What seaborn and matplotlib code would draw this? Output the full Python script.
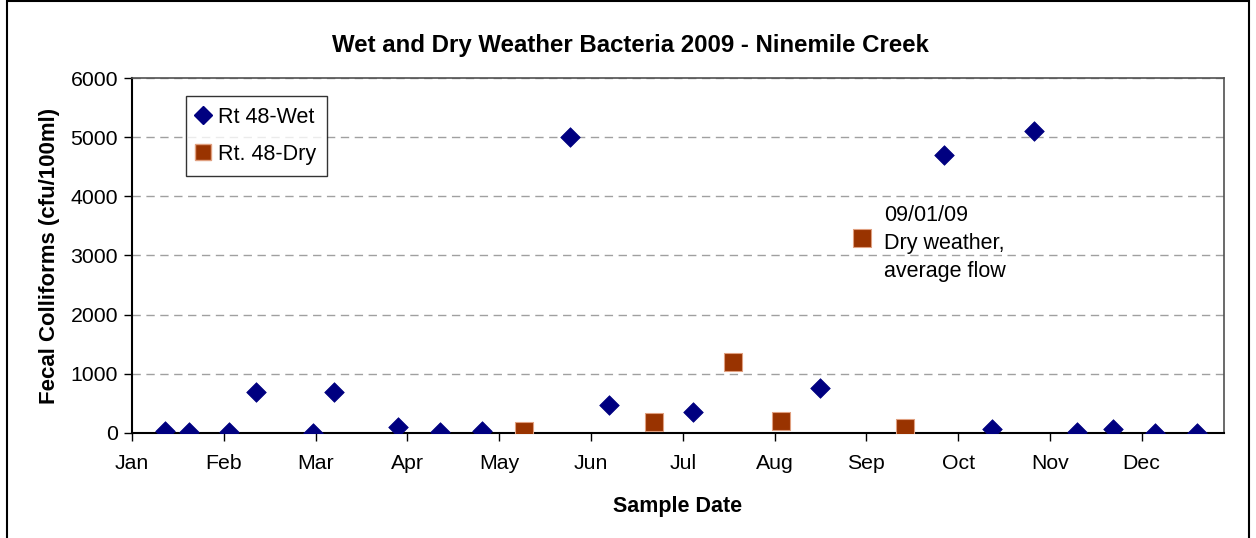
import matplotlib
matplotlib.use("Agg")
import matplotlib.pyplot as plt
import seaborn as sns
import pandas as pd
import numpy as np
from matplotlib.lines import Line2D
from matplotlib.patches import Rectangle

# ---- data ----
wet_dates = ["2009-01-12", "2009-01-20", "2009-02-02", "2009-02-11", "2009-03-02",
             "2009-03-09", "2009-03-30", "2009-04-13", "2009-04-27", "2009-05-26",
             "2009-06-08", "2009-07-06", "2009-08-17", "2009-09-27", "2009-10-13",
             "2009-10-27", "2009-11-10", "2009-11-22", "2009-12-06", "2009-12-20"]
wet_values = [40, 10, 10, 700, 0, 700, 100, 10, 40, 5000,
              470, 360, 760, 4700, 70, 5100, 20, 60, 0, 0]
dry_dates = ["2009-05-11", "2009-06-23", "2009-07-19", "2009-08-04", "2009-08-31", "2009-09-14"]
dry_values = [40, 190, 1200, 200, 3300, 80]
month_labels = ["Jan", "Feb", "Mar", "Apr", "May", "Jun", "Jul", "Aug", "Sep", "Oct", "Nov", "Dec"]
y_ticks = [0, 1000, 2000, 3000, 4000, 5000, 6000]
annotation = "09/01/09\nDry weather,\naverage flow"

start = pd.Timestamp("2009-01-01")
wet = pd.DataFrame({"day": (pd.to_datetime(wet_dates) - start).days, "val": wet_values})
dry = pd.DataFrame({"day": (pd.to_datetime(dry_dates) - start).days, "val": dry_values})

sns.set_style("white")
plt.rcParams["font.family"] = ["Liberation Sans", "DejaVu Sans"]
plt.rcParams["text.color"] = "black"
plt.rcParams["axes.labelcolor"] = "black"
plt.rcParams["xtick.color"] = "black"
plt.rcParams["ytick.color"] = "black"

fig = plt.figure(figsize=(12.56, 5.38), dpi=100)
ax = fig.add_axes([0.1051, 0.1952, 0.8694, 0.6598])

wet_c = "#000080"
dry_c = "#993300"
sns.scatterplot(data=wet, x="day", y="val", ax=ax, marker="D", s=100,
                color=wet_c, edgecolor=wet_c, linewidth=0.5, zorder=3)
sns.scatterplot(data=dry, x="day", y="val", ax=ax, marker="s", s=150,
                color=dry_c, edgecolor="#e0a080", linewidth=0.8, zorder=3)

unit = 365 / 12
ax.set_xlim(0, 11.897 * unit)
ax.set_ylim(0, 6000)
ax.set_xticks([i * unit for i in range(12)])
ax.set_xticklabels(month_labels)
ax.set_yticks(y_ticks)
ax.set_yticklabels([str(v) for v in y_ticks])
ax.tick_params(axis="both", labelsize=15.3, direction="out", length=6, width=1,
               color="black", labelcolor="black", bottom=True, left=True)
ax.tick_params(axis="x", pad=9)
ax.tick_params(axis="y", pad=4)

ax.yaxis.grid(True, linestyle=(0, (6, 4)), color="#a0a0a0", linewidth=1)
ax.xaxis.grid(False)
for side in ["left", "bottom"]:
    ax.spines[side].set_color("black")
    ax.spines[side].set_linewidth(1.5)
for side in ["top", "right"]:
    ax.spines[side].set_color("#505050")
    ax.spines[side].set_linewidth(1.2)

ax.set_xlabel("Sample Date", fontsize=15.5, fontweight="bold", labelpad=17)
ax.set_ylabel("Fecal Colliforms (cfu/100ml)", fontsize=16, fontweight="bold", labelpad=8)
fig.text(0.5 + 0.002, 1 - 46 / 538, "Wet and Dry Weather Bacteria 2009 - Ninemile Creek",
         ha="center", va="center", fontsize=17.3, fontweight="bold")

ax.annotate(annotation, xy=(884 / 1256, 1 - 205 / 538), xycoords="figure fraction",
            ha="left", va="top", fontsize=15.5, linespacing=1.45)

handles = [
    Line2D([], [], marker="D", color=wet_c, linestyle="none", markersize=9,
           markeredgecolor=wet_c, label="Rt 48-Wet"),
    Line2D([], [], marker="s", color=dry_c, linestyle="none", markersize=11.5,
           markeredgecolor="#e0a080", label="Rt. 48-Dry"),
]
leg = ax.legend(handles=handles, loc="upper left",
                bbox_to_anchor=((186 - 132) / 1092, (433 - 96) / 355),
                frameon=True, fancybox=False, shadow=False, fontsize=15.5,
                handlelength=0.6, handletextpad=0.4, borderpad=0.5,
                labelspacing=0.75, borderaxespad=0)
leg.get_frame().set_edgecolor("black")
leg.get_frame().set_linewidth(1)

# outer chart border
fig.add_artist(Rectangle((7 / 1256, -0.01), 1242 / 1256, 1.0 - 1 / 538 + 0.01,
                         transform=fig.transFigure, fill=False,
                         edgecolor="black", linewidth=1.5))

fig.savefig("out.png", dpi=100)
